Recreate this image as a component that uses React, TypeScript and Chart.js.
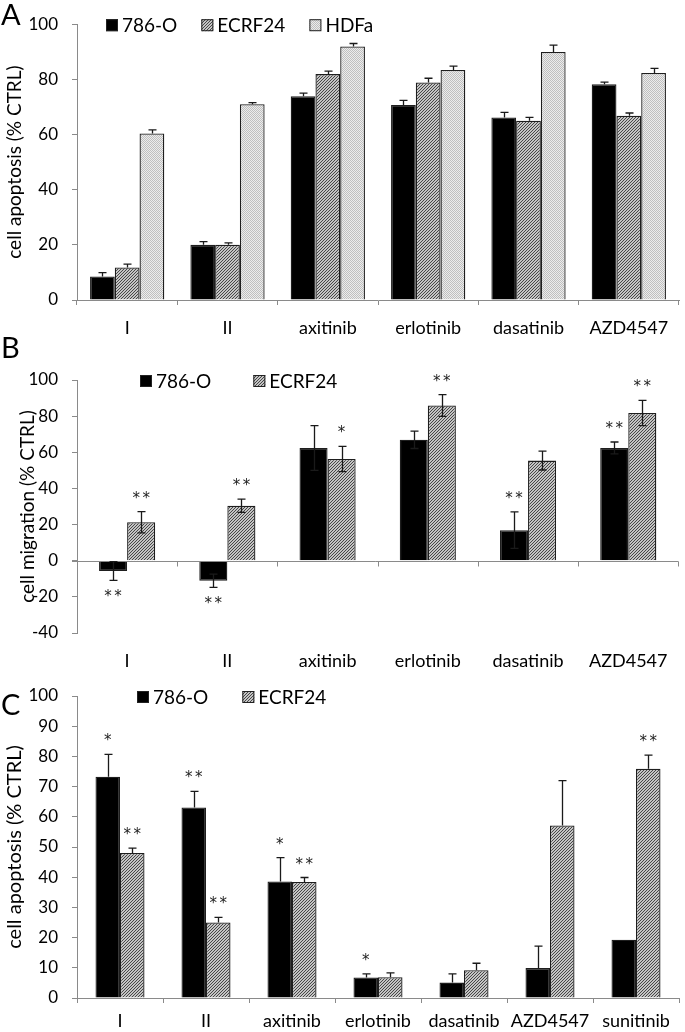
import React, { useEffect, useRef } from 'react';
import { Chart, registerables } from 'chart.js';

Chart.register(...registerables);

const FONT = 'Lato, "Open Sans", sans-serif';
const STAR_FONT = '"DejaVu Sans", sans-serif';
const AXIS = '#8a8a8a';

// ---------- Panel A: cell apoptosis ----------
const catsA = ['I', 'II', 'axitinib', 'erlotinib', 'dasatinib', 'AZD4547'];
const a786 = [8.5, 20.0, 73.9, 70.7, 66.2, 78.2];
const a786Err = [1.4, 1.2, 1.1, 1.7, 1.8, 0.8];
const aECRF = [11.8, 20.0, 81.9, 78.9, 65.0, 66.8];
const aECRFErr = [1.2, 0.7, 1.1, 1.5, 1.2, 1.0];
const aHDFa = [60.4, 71.0, 91.9, 83.4, 89.9, 82.3];
const aHDFaErr = [1.3, 0.6, 1.1, 1.4, 2.5, 1.7];
const ticksA = [0, 20, 40, 60, 80, 100];

// ---------- Panel B: cell migration ----------
const catsB = ['I', 'II', 'axitinib', 'erlotinib', 'dasatinib', 'AZD4547'];
const b786 = [-5.7, -11.1, 62.4, 66.9, 16.9, 62.4];
const b786Err = [5.2, 3.7, 12.4, 4.8, 10.1, 3.3];
const bECRF = [21.3, 30.4, 56.3, 85.9, 55.4, 81.7];
const bECRFErr = [5.9, 3.7, 7.0, 6.0, 5.2, 7.0];
const b786Sig = ['**', '**', '', '', '**', '**'];
const bECRFSig = ['**', '**', '*', '**', '', '**'];
const ticksB = [-40, -20, 0, 20, 40, 60, 80, 100];

// ---------- Panel C: cell apoptosis ----------
const catsC = ['I', 'II', 'axitinib', 'erlotinib', 'dasatinib', 'AZD4547', 'sunitinib'];
const c786 = [73.3, 63.1, 38.6, 6.8, 5.1, 9.9, 19.3];
const c786Err = [7.4, 5.3, 7.9, 1.2, 2.9, 7.3, 0];
const cECRF = [48.0, 25.0, 38.4, 6.9, 9.2, 57.1, 75.9];
const cECRFErr = [1.6, 1.7, 1.5, 1.4, 2.3, 14.9, 4.5];
const c786Sig = ['*', '**', '*', '*', '', '', ''];
const cECRFSig = ['**', '**', '**', '', '', '', '**'];
const ticksC = [0, 10, 20, 30, 40, 50, 60, 70, 80, 90, 100];

function hatch(ctx: CanvasRenderingContext2D): CanvasPattern {
  const c = document.createElement('canvas');
  c.width = 3; c.height = 3;
  const g = c.getContext('2d')!;
  g.fillStyle = '#c4c4c4';
  g.fillRect(0, 0, 3, 3);
  g.fillStyle = '#474747';
  // one-pixel diagonal "/" line
  g.fillRect(2, 0, 1, 1);
  g.fillRect(1, 1, 1, 1);
  g.fillRect(0, 2, 1, 1);
  return ctx.createPattern(c, 'repeat')!;
}

function dots(ctx: CanvasRenderingContext2D): CanvasPattern {
  const c = document.createElement('canvas');
  c.width = 2; c.height = 2;
  const g = c.getContext('2d')!;
  g.fillStyle = '#ececec';
  g.fillRect(0, 0, 2, 2);
  g.fillStyle = '#bfbfbf';
  g.fillRect(0, 0, 1, 1);
  g.fillRect(1, 1, 1, 1);
  return ctx.createPattern(c, 'repeat')!;
}

function drawStars(ctx: CanvasRenderingContext2D, cx: number, cy: number, n: number) {
  ctx.font = `15px ${STAR_FONT}`;
  ctx.textAlign = 'center';
  ctx.textBaseline = 'alphabetic';
  ctx.fillStyle = '#222';
  const m = ctx.measureText('*');
  const yb = cy + (m.actualBoundingBoxAscent - m.actualBoundingBoxDescent) / 2;
  for (let k = 0; k < n; k++) {
    ctx.fillText('*', cx + (k - (n - 1) / 2) * 10, yb);
  }
}

const decoPlugin = {
  id: 'panelDeco',
  afterDatasetsDraw(chart: any, _a: any, opts: any) {
    const ctx: CanvasRenderingContext2D = chart.ctx;
    const ys = chart.scales.y;
    const ca = chart.chartArea;
    ctx.save();
    if (opts.zeroLine) {
      const y0 = Math.round(ys.getPixelForValue(0)) + 0.5;
      ctx.strokeStyle = AXIS;
      ctx.lineWidth = 1;
      ctx.beginPath();
      ctx.moveTo(ca.left - 5, y0);
      ctx.lineTo(ca.right, y0);
      const n = chart.data.labels.length;
      for (let i = 0; i <= n; i++) {
        const px = Math.round(ca.left + ((ca.right - ca.left) * i) / n) + 0.5;
        ctx.moveTo(px, y0);
        ctx.lineTo(px, y0 + 5);
      }
      ctx.stroke();
    }
    chart.data.datasets.forEach((ds: any, di: number) => {
      const meta = chart.getDatasetMeta(di);
      const errs: number[] = opts.errs[di];
      const sigs: string[] | undefined = opts.sigs ? opts.sigs[di] : undefined;
      meta.data.forEach((bar: any, i: number) => {
        const v = ds.data[i];
        const e = errs[i];
        const bx = Math.round(bar.x) + 0.5;
        const dir = v >= 0 ? 1 : -1;
        const outer = v + dir * e;
        const inner = opts.errMode === 'both' ? v - dir * e : v;
        const p1 = ys.getPixelForValue(outer);
        const p0 = ys.getPixelForValue(inner);
        if (e > 0) {
          ctx.strokeStyle = '#1a1a1a';
          ctx.lineWidth = 1.3;
          ctx.beginPath();
          ctx.moveTo(bx, p0);
          ctx.lineTo(bx, p1);
          ctx.moveTo(bx - 4, p1);
          ctx.lineTo(bx + 4, p1);
          if (opts.errMode === 'both') {
            ctx.moveTo(bx - 4, p0);
            ctx.lineTo(bx + 4, p0);
          }
          ctx.stroke();
        }
        if (sigs && sigs[i]) {
          const cy = dir > 0 ? p1 - 17 : p1 + 13;
          drawStars(ctx, bar.x, cy, sigs[i].length);
        }
      });
    });
    ctx.restore();
  },
  afterDraw(chart: any, _a: any, opts: any) {
    const ctx: CanvasRenderingContext2D = chart.ctx;
    const ca = chart.chartArea;
    ctx.save();
    // legend
    let x = opts.legendX;
    const cy = ca.top + 1;
    ctx.font = `19px ${FONT}`;
    ctx.textAlign = 'left';
    ctx.textBaseline = 'middle';
    chart.data.datasets.forEach((ds: any) => {
      ctx.fillStyle = ds.backgroundColor;
      ctx.fillRect(x, cy - 6, 12, 12);
      ctx.strokeStyle = '#222';
      ctx.lineWidth = 1;
      ctx.strokeRect(x + 0.5, cy - 5.5, 11, 11);
      ctx.fillStyle = '#000';
      ctx.fillText(ds.label, x + 16, cy + 1);
      x += 16 + ctx.measureText(ds.label).width + opts.legendGap;
    });
    // panel letter
    ctx.font = `29px ${FONT}`;
    ctx.textBaseline = 'alphabetic';
    ctx.fillStyle = '#000';
    ctx.fillText(opts.letter, 1, opts.letterY);
    ctx.restore();
  },
};

type Series = { label: string; data: number[]; err: number[]; sig?: string[]; fill: 'solid' | 'hatch' | 'dots' };

type PanelSpec = {
  height: number;
  labels: string[];
  series: Series[];
  ticks: number[];
  title: string;
  titleSize: number;
  titlePad: number;
  catPct: number;
  letter: string;
  letterY: number;
  legendX: number;
  legendGap: number;
  errMode: 'out' | 'both';
  zeroLine: boolean;
  padTop: number;
  xHeight: number;
  xPad: number;
  xTickMarks: boolean;
};

function makeConfig(ctx: CanvasRenderingContext2D, s: PanelSpec): any {
  const fills: Record<string, any> = { solid: '#000', hatch: hatch(ctx), dots: dots(ctx) };
  return {
    type: 'bar',
    data: {
      labels: s.labels,
      datasets: s.series.map((se) => ({
        label: se.label,
        data: se.data,
        backgroundColor: fills[se.fill],
        borderColor: '#1e1e1e',
        borderWidth: 1.3,
        categoryPercentage: s.catPct,
        barPercentage: 1,
      })),
    },
    options: {
      responsive: false,
      animation: false,
      devicePixelRatio: 1,
      layout: { padding: { top: s.padTop, right: 6, left: 0, bottom: 0 } },
      plugins: {
        legend: { display: false },
        tooltip: { enabled: false },
        panelDeco: {
          errs: s.series.map((se) => se.err),
          sigs: s.series.map((se) => se.sig || []),
          errMode: s.errMode,
          zeroLine: s.zeroLine,
          legendX: s.legendX,
          legendGap: s.legendGap,
          letter: s.letter,
          letterY: s.letterY,
        },
      },
      scales: {
        x: {
          afterFit: (sc: any) => { sc.height = s.xHeight; },
          border: { display: s.xTickMarks, color: AXIS, width: 1 },
          grid: {
            display: s.xTickMarks,
            drawOnChartArea: false,
            drawTicks: s.xTickMarks,
            tickLength: 5,
            color: AXIS,
          },
          ticks: {
            color: '#000',
            font: { family: FONT, size: 18 },
            padding: s.xPad,
            maxRotation: 0,
            autoSkip: false,
          },
        },
        y: {
          min: s.ticks[0],
          max: s.ticks[s.ticks.length - 1],
          afterFit: (sc: any) => { sc.width = 77; },
          afterBuildTicks: (sc: any) => { sc.ticks = s.ticks.map((v) => ({ value: v })); },
          border: { display: true, color: AXIS, width: 1 },
          grid: { display: true, drawOnChartArea: false, drawTicks: true, tickLength: 5, color: AXIS },
          ticks: { color: '#000', font: { family: FONT, size: 17 }, padding: 14 },
          title: {
            display: true,
            text: s.title,
            color: '#000',
            font: { family: FONT, size: s.titleSize },
            padding: { top: s.titlePad, bottom: 0 },
          },
        },
      },
    },
    plugins: [decoPlugin],
  };
}

const specA: PanelSpec = {
  height: 340,
  labels: catsA,
  series: [
    { label: '786-O', data: a786, err: a786Err, fill: 'solid' },
    { label: 'ECRF24', data: aECRF, err: aECRFErr, fill: 'hatch' },
    { label: 'HDFa', data: aHDFa, err: aHDFaErr, fill: 'dots' },
  ],
  ticks: ticksA,
  title: 'cell apoptosis (% CTRL)',
  titleSize: 19,
  titlePad: 3,
  catPct: 0.74,
  letter: 'A',
  letterY: 25,
  legendX: 106,
  legendGap: 24,
  errMode: 'out',
  zeroLine: false,
  padTop: 15,
  xHeight: 40,
  xPad: 12,
  xTickMarks: true,
};

const specB: PanelSpec = {
  height: 335,
  labels: catsB,
  series: [
    { label: '786-O', data: b786, err: b786Err, sig: b786Sig, fill: 'solid' },
    { label: 'ECRF24', data: bECRF, err: bECRFErr, sig: bECRFSig, fill: 'hatch' },
  ],
  ticks: ticksB,
  title: 'cell migration (% CTRL)',
  titleSize: 19,
  titlePad: 16,
  catPct: 0.56,
  letter: 'B',
  letterY: 23,
  legendX: 140,
  legendGap: 42,
  errMode: 'both',
  zeroLine: true,
  padTop: 45,
  xHeight: 37,
  xPad: 17,
  xTickMarks: false,
};

const specC: PanelSpec = {
  height: 362,
  labels: catsC,
  series: [
    { label: '786-O', data: c786, err: c786Err, sig: c786Sig, fill: 'solid' },
    { label: 'ECRF24', data: cECRF, err: cECRFErr, sig: cECRFSig, fill: 'hatch' },
  ],
  ticks: ticksC,
  title: 'cell apoptosis (% CTRL)',
  titleSize: 20,
  titlePad: 3,
  catPct: 0.57,
  letter: 'C',
  letterY: 45,
  legendX: 137,
  legendGap: 34,
  errMode: 'out',
  zeroLine: false,
  padTop: 26,
  xHeight: 34,
  xPad: 7,
  xTickMarks: true,
};

function Panel({ top, spec }: { top: number; spec: PanelSpec }) {
  const ref = useRef<HTMLCanvasElement>(null);
  useEffect(() => {
    const c = ref.current!;
    const ctx = c.getContext('2d')!;
    const chart = new Chart(c, makeConfig(ctx, spec));
    return () => chart.destroy();
  }, []);
  return (
    <canvas
      ref={ref}
      width={685}
      height={spec.height}
      style={{ position: 'absolute', left: 0, top, width: 685, height: spec.height }}
    />
  );
}

export default function App() {
  return (
    <div style={{ position: 'absolute', left: 0, top: 0, width: 685, height: 1032, background: '#fff' }}>
      <Panel top={0} spec={specA} />
      <Panel top={335} spec={specB} />
      <Panel top={670} spec={specC} />
    </div>
  );
}
